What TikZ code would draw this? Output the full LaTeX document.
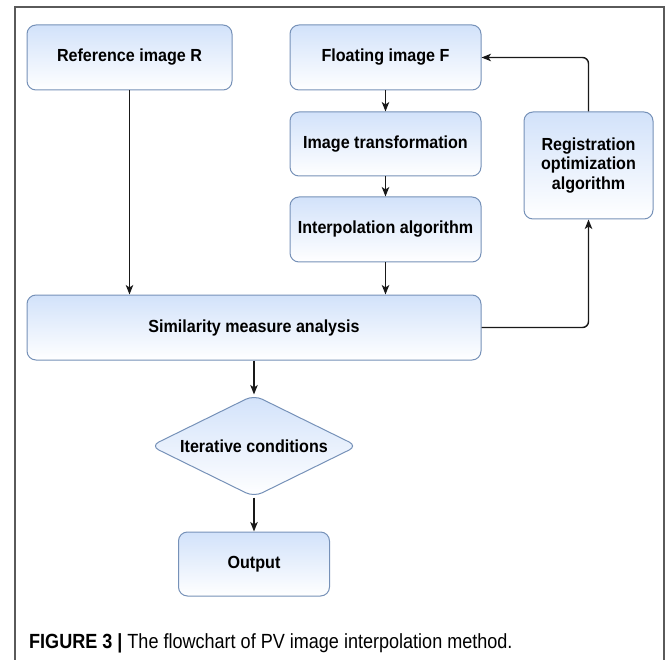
\documentclass[tikz,border=0pt]{standalone}
\usepackage{fontspec}
\setmainfont{Liberation Sans}[FakeStretch=0.92]
\newfontfamily\capfont{Liberation Sans}[FakeStretch=0.88]
\usetikzlibrary{arrows.meta}
\usetikzlibrary{shapes.geometric}
\definecolor{boxtop}{RGB}{210,226,250}
\definecolor{boxline}{RGB}{118,145,184}
\definecolor{framegray}{RGB}{90,90,90}
\tikzset{box/.style = {draw=boxline, line width=1pt, rounded corners=9pt,
                       top color=boxtop, bottom color=white, inner sep=0,
                       align=center, font=\fontsize{17.5}{19.5}\selectfont\bfseries}}
\tikzset{decide/.style = {box, diamond, aspect=2}}
\tikzset{flow/.style = {line width=1.4pt, draw=black!90,
                        -{Stealth[length=9.5pt,width=7.5pt,inset=2.5pt]}}}

\begin{document}
\begin{tikzpicture}[x=1pt, y=-1pt]
    \useasboundingbox (0,0) rectangle (669,660);
    \draw[framegray, line width=1.3pt] (15,660) -- (15,7) -- (664,7) -- (664,660);

    \node[box, minimum width=205pt, minimum height=65pt] (ref) at (129.5,57.5) {Reference image R};
    \node[box, minimum width=191pt, minimum height=65pt] (float) at (385.5,57.5) {Floating image F};
    \node[box, minimum width=191pt, minimum height=64pt] (trans) at (385.5,144) {Image transformation};
    \node[box, minimum width=191pt, minimum height=65pt] (interp) at (385.5,229.5) {Interpolation algorithm};
    \node[box, minimum width=129pt, minimum height=107pt] (reg) at (588.5,165.5) {Registration\\optimization\\algorithm};
    \node[box, minimum width=454pt, minimum height=65pt] (sim) at (254,327.5) {Similarity measure analysis};
    \node[decide, minimum width=207pt, minimum height=102pt] (cond) at (254,446) {Iterative conditions};
    \node[box, minimum width=151pt, minimum height=64pt] (out) at (254,564) {Output};

    \draw[flow] (ref.south) -- (ref.south |- sim.north);
    \draw[flow] (float) -- (trans);
    \draw[flow] (trans) -- (interp);
    \draw[flow] (interp.south) -- (interp.south |- sim.north);
    \draw[flow] (sim) -- (cond);
    \draw[flow] (cond) -- (out);
    \draw[flow, rounded corners=6pt] (sim.east) -| (reg.south);
    \draw[flow, rounded corners=6pt] (reg.north) |- (float.east);

    \node[anchor=base west, inner sep=0, font=\capfont\fontsize{20.5}{24}\selectfont] (cap) at (29,648)
      {\textbf{FIGURE 3 |} The flowchart of PV image interpolation method.};
  \end{tikzpicture}
\end{document}
